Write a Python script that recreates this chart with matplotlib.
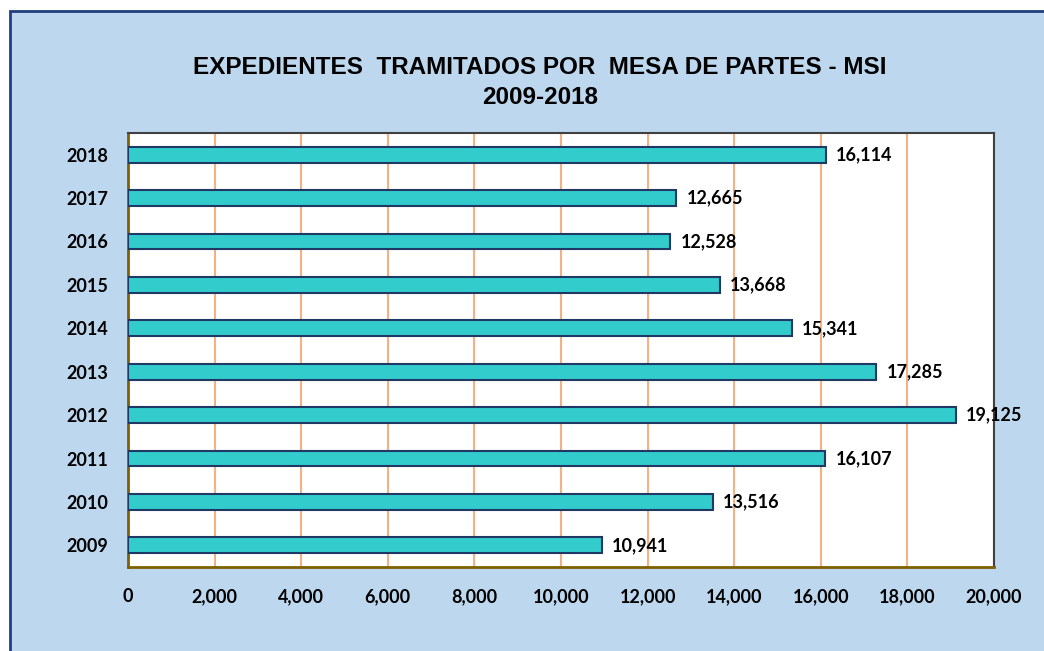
import matplotlib
matplotlib.use("Agg")
import matplotlib.pyplot as plt
from matplotlib.patches import Rectangle
from matplotlib.ticker import FuncFormatter, MultipleLocator

years = ["2009", "2010", "2011", "2012", "2013", "2014", "2015", "2016", "2017", "2018"]
values = [10941, 13516, 16107, 19125, 17285, 15341, 13668, 12528, 12665, 16114]
title_lines = ["EXPEDIENTES  TRAMITADOS POR  MESA DE PARTES - MSI", "2009-2018"]

W, H = 1044, 651
fig = plt.figure(figsize=(W / 100, H / 100), dpi=100)
fig.patch.set_facecolor("white")

panel = Rectangle((10 / W, -0.1), 1.2, (H - 11) / H + 0.1, transform=fig.transFigure,
                  facecolor="#BDD7EE", edgecolor="#1F3F7F", linewidth=2, zorder=-5)
fig.patches.append(panel)

left, right, top, bottom = 128, 994, 133, 567
ax = fig.add_axes([left / W, 1 - bottom / H, (right - left) / W, (bottom - top) / H])
ax.set_zorder(1)
ax.set_facecolor("white")

lab_font = "Lato"
pos = list(range(len(years)))
ax.barh(pos, values, height=0.36, color="#33CCCC", edgecolor="#1F3864", linewidth=1.5, zorder=3)
for p, v in zip(pos, values):
    ax.text(v + 230, p, f"{v:,}", va="center", ha="left", fontsize=13, fontweight="bold",
            family=lab_font, color="black", zorder=4, clip_on=False)

ax.set_xlim(0, 20000)
ax.set_ylim(-0.5, len(years) - 0.5)
ax.xaxis.set_major_locator(MultipleLocator(2000))
ax.xaxis.set_major_formatter(FuncFormatter(lambda x, _: f"{int(x):,}"))
ax.grid(axis="x", color="#F4B183", linewidth=1.5, zorder=1)
ax.set_axisbelow(True)
ax.set_yticks(pos)
ax.set_yticklabels(years)
ax.tick_params(axis="both", length=0)
ax.tick_params(axis="x", pad=15)
ax.tick_params(axis="y", pad=14)
for lab in ax.get_xticklabels() + ax.get_yticklabels():
    lab.set_fontfamily(lab_font)
    lab.set_fontweight("bold")
    lab.set_fontsize(13)

ax.spines["left"].set_color("#7F6000")
ax.spines["bottom"].set_color("#7F6000")
ax.spines["left"].set_linewidth(2)
ax.spines["bottom"].set_linewidth(2)
ax.spines["top"].set_color("#404040")
ax.spines["right"].set_color("#404040")
ax.spines["top"].set_linewidth(1.5)
ax.spines["right"].set_linewidth(1.5)

fig.text(540 / W, 1 - 68 / H, title_lines[0], ha="center", va="center", fontsize=17.5,
         fontweight="bold", family="Liberation Sans")
fig.text(540 / W, 1 - 97 / H, title_lines[1], ha="center", va="center", fontsize=17.5,
         fontweight="bold", family="Liberation Sans")

fig.savefig("out.png", dpi=100, facecolor=fig.get_facecolor())
